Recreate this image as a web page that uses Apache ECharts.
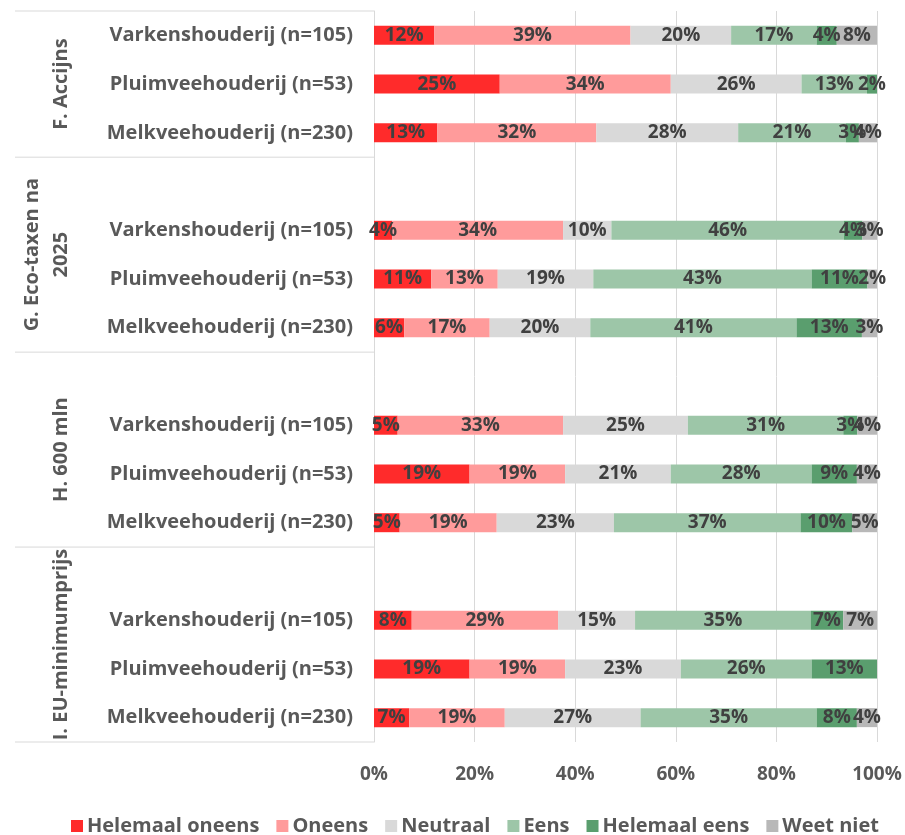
<!DOCTYPE html>
<html>
<head>
<meta charset="utf-8">
<script src="https://cdn.jsdelivr.net/npm/echarts@6/dist/echarts.min.js"></script>
<style>
  html, body { margin: 0; padding: 0; background: #fff; }
  #chart { width: 905px; height: 835px; }
</style>
</head>
<body>
<div id="chart"></div>
<script>
// rows top to bottom, '' = empty spacer row between the groups
const categories = [
  'Varkenshouderij (n=105)', 'Pluimveehouderij (n=53)', 'Melkveehouderij (n=230)', '',
  'Varkenshouderij (n=105)', 'Pluimveehouderij (n=53)', 'Melkveehouderij (n=230)', '',
  'Varkenshouderij (n=105)', 'Pluimveehouderij (n=53)', 'Melkveehouderij (n=230)', '',
  'Varkenshouderij (n=105)', 'Pluimveehouderij (n=53)', 'Melkveehouderij (n=230)'
];
const groups = ['F. Accijns', 'G. Eco-taxen na\n2025', 'H. 600 mln', 'I. EU-minimumprijs'];
const groupStart = [0, 3, 7, 11];
const groupEnd = [2, 6, 10, 14];

const seriesNames = ['Helemaal oneens', 'Oneens', 'Neutraal', 'Eens', 'Helemaal eens', 'Weet niet'];

const helemaalOneens = [12, 25, 12.6, null, 3.6, 11.4, 6, null, 4.7, 19, 5.1, null, 7.5, 19, 7];
const oneens         = [39, 34, 31.6, null, 34, 13.2, 17, null, 32.9, 19, 19.3, null, 29.1, 19, 19];
const neutraal       = [20, 26, 28.2, null, 9.6, 19, 20, null, 24.8, 21, 23.3, null, 15.3, 23, 27];
const eens           = [17, 13, 21.4, null, 46.2, 43.4, 41, null, 30.9, 28, 37.1, null, 34.9, 26, 35];
const helemaalEens   = [4, 2, 2.6, null, 3.7, 11.1, 13, null, 2.8, 9, 10.3, null, 6.5, 13, 8];
const weetNiet       = [8, 0, 3.6, null, 2.9, 1.9, 3, null, 3.9, 4, 4.9, null, 6.7, 0, 4];

const colors = ['#FF2B2B', '#FF9B9B', '#D9D9D9', '#9DC6A8', '#5A9E6E', '#B8B8B8'];
const seriesData = [helemaalOneens, oneens, neutraal, eens, helemaalEens, weetNiet];

const font = '"Open Sans", Lato, sans-serif';

let chart = echarts.init(document.getElementById('chart'));

let options = {
  color: colors,
  animation: false,
  grid: {
    left: 374,
    right: 28,
    top: 11,
    bottom: 93
  },
  legend: {
    bottom: -6,
    left: 66,
    itemWidth: 12,
    itemHeight: 12,
    itemGap: 17,
    icon: 'rect',
    textStyle: {
      color: '#595959',
      fontSize: 20,
      fontWeight: 'bold',
      fontFamily: font,
      padding: [0, 0, 0, -1]
    },
    data: seriesNames
  },
  xAxis: {
    type: 'value',
    min: 0,
    max: 100,
    interval: 20,
    axisLine: { show: false },
    axisTick: { show: false },
    splitLine: {
      lineStyle: { color: '#D9D9D9', width: 1 }
    },
    axisLabel: {
      formatter: '{value}%',
      color: '#595959',
      fontSize: 19,
      fontWeight: 'bold',
      fontFamily: font,
      margin: 23
    }
  },
  yAxis: {
    type: 'category',
    inverse: true,
    data: categories,
    axisLine: {
      show: true,
      lineStyle: { color: '#D9D9D9', width: 1 }
    },
    axisTick: { show: false },
    axisLabel: {
      color: '#595959',
      fontSize: 20,
      fontWeight: 'bold',
      fontFamily: font,
      margin: 21
    }
  },
  series: seriesNames.map((name, i) => ({
    name: name,
    type: 'bar',
    stack: 'total',
    barWidth: 19,
    data: seriesData[i],
    label: {
      show: true,
      position: 'inside',
      color: '#404040',
      fontSize: 19,
      fontWeight: 'bold',
      fontFamily: font,
      formatter: p => (p.value ? Math.round(p.value) + '%' : '')
    }
  }))
};

chart.setOption(options);

// group labels and separator lines left of the axis
let band = chart.convertToPixel({ yAxisIndex: 0 }, 1) - chart.convertToPixel({ yAxisIndex: 0 }, 0);
let edge = i => chart.convertToPixel({ yAxisIndex: 0 }, i) - band / 2;
let graphic = [];
groups.forEach((g, i) => {
  let y0 = edge(groupStart[i]);
  let y1 = edge(groupEnd[i] + 1);
  graphic.push({
    type: 'line',
    shape: { x1: 15, y1: y0, x2: 374, y2: y0 },
    style: { stroke: '#D9D9D9', lineWidth: 1 }
  });
  graphic.push({
    type: 'text',
    x: 76,
    y: (y0 + y1) / 2,
    rotation: Math.PI / 2,
    style: {
      text: g,
      fill: '#595959',
      font: 'bold 20px ' + font,
      textAlign: 'center',
      textVerticalAlign: 'bottom',
      lineHeight: 29
    }
  });
});
let yEnd = edge(categories.length);
graphic.push({
  type: 'line',
  shape: { x1: 15, y1: yEnd, x2: 374, y2: yEnd },
  style: { stroke: '#D9D9D9', lineWidth: 1 }
});
chart.setOption({ graphic: graphic });
</script>
</body>
</html>
